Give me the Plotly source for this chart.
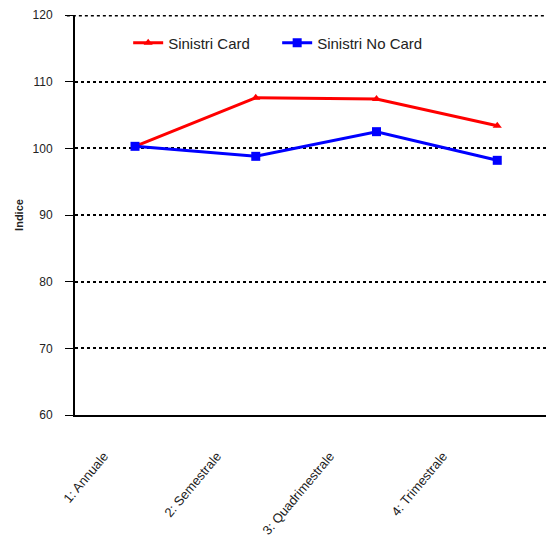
import plotly.graph_objects as go

categories = ["1: Annuale", "2: Semestrale", "3: Quadrimestrale", "4: Trimestrale"]
sinistri_card = [100.3, 107.6, 107.4, 103.4]
sinistri_no_card = [100.3, 98.8, 102.5, 98.2]
y_ticks = [60, 70, 80, 90, 100, 110, 120]
cat_pos = list(range(len(categories)))

FONT = "Liberation Sans, Arial, sans-serif"

fig = go.Figure()
fig.add_trace(go.Scatter(
    x=cat_pos, y=sinistri_card, name="Sinistri Card", mode="lines+markers",
    line=dict(color="#ff0000", width=3),
    marker=dict(symbol="triangle-up", size=8, color="#ff0000"),
))
fig.add_trace(go.Scatter(
    x=cat_pos, y=sinistri_no_card, name="Sinistri No Card", mode="lines+markers",
    line=dict(color="#0000ff", width=3),
    marker=dict(symbol="square", size=9, color="#0000ff"),
))
# invisible carrier trace for the label axis
fig.add_trace(go.Scatter(
    x=cat_pos, y=sinistri_card, xaxis="x2", mode="lines", opacity=0,
    showlegend=False, hoverinfo="skip",
))

# dotted top border at 120
fig.add_shape(type="line", xref="paper", yref="y", x0=-0.017, x1=1, y0=120, y1=120,
              line=dict(color="black", width=3, dash="dot"), layer="above")

fig.update_layout(
    width=546, height=544,
    margin=dict(l=67, r=0, t=7, b=137),
    plot_bgcolor="white", paper_bgcolor="white",
    font=dict(family=FONT, color="#222222"),
    showlegend=True,
    legend=dict(
        orientation="h", x=0.111, y=0.93, xanchor="left", yanchor="middle",
        font=dict(size=15, family=FONT, color="#222222"),
        bgcolor="rgba(0,0,0,0)", entrywidth=104, entrywidthmode="pixels",
    ),
    xaxis=dict(
        range=[-0.497, 3.47], tickvals=cat_pos,
        showline=True, linecolor="black", linewidth=2,
        showgrid=False, ticks="", showticklabels=False, zeroline=False,
    ),
    xaxis2=dict(
        overlaying="x", anchor="y", side="bottom",
        range=[-0.257, 3.982], tickvals=cat_pos, ticktext=categories,
        showline=False, showgrid=False, ticks="", zeroline=False,
        tickangle=-50, ticklabelstandoff=30,
        tickfont=dict(size=13, family=FONT, color="#1a1a1a"),
    ),
    yaxis=dict(
        range=[60, 120], tickvals=y_ticks,
        showline=True, linecolor="black", linewidth=2,
        showgrid=True, gridcolor="black", gridwidth=2, griddash="dot",
        ticks="outside", ticklen=8, tickcolor="black", tickwidth=1,
        ticklabelstandoff=10,
        tickfont=dict(size=12, family=FONT, color="#222222"),
        zeroline=False,
        title=dict(text="<b>Indice</b>", font=dict(size=11, family=FONT, color="#222222"), standoff=7),
    ),
)

fig.write_html("out.html")
